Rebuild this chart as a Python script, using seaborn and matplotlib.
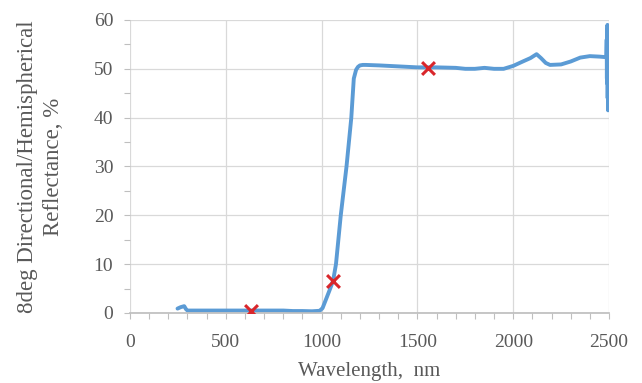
import matplotlib
matplotlib.use("Agg")
import matplotlib.pyplot as plt
import seaborn as sns
import pandas as pd
from matplotlib.ticker import MultipleLocator

# Spectrum
wavelength = [248, 265, 283, 292, 300, 320, 400, 500, 600, 700, 800, 850, 900, 950, 990,
              1005, 1020, 1040, 1060, 1075, 1100, 1130, 1155, 1168, 1180, 1190, 1200, 1215,
              1230, 1300, 1400, 1500, 1600, 1700, 1750, 1800, 1850, 1900, 1950, 2000,
              2050, 2090, 2122, 2145, 2170, 2192, 2250, 2300, 2350, 2400, 2450, 2480,
              2486, 2488, 2489, 2490, 2491, 2492, 2493, 2494, 2495, 2496, 2497, 2498, 2499, 2500]
reflectance = [0.9, 1.2, 1.4, 0.8, 0.5, 0.5, 0.5, 0.5, 0.5, 0.5, 0.5, 0.4, 0.4, 0.35, 0.45,
               1.0, 2.5, 4.5, 6.6, 10.0, 20.0, 30.0, 40.0, 48.0, 49.8, 50.4, 50.7, 50.8,
               50.8, 50.7, 50.5, 50.3, 50.3, 50.2, 50.0, 50.0, 50.2, 50.0, 50.0, 50.6,
               51.5, 52.2, 53.0, 52.2, 51.2, 50.8, 50.9, 51.5, 52.3, 52.6, 52.5, 52.4,
               52.3, 56.0, 48.0, 58.0, 47.0, 59.0, 44.0, 57.0, 41.5, 55.0, 46.0, 58.5, 50.0, 52.0]

# Marked points
mark_x = [630, 1062, 1555]
mark_y = [0.4, 6.6, 50.2]

x_ticks = [0, 500, 1000, 1500, 2000, 2500]
y_ticks = [0, 10, 20, 30, 40, 50, 60]

sns.set_theme(style="white")
plt.rcParams["font.family"] = ["Liberation Serif", "DejaVu Serif"]

fig = plt.figure(figsize=(6.42, 3.83), dpi=100)
ax = fig.add_axes([0.2025, 0.1828, 0.7461, 0.765])

df = pd.DataFrame({"wl": wavelength, "r": reflectance})
sns.lineplot(data=df, x="wl", y="r", ax=ax, color="#5B9BD5", linewidth=2.8,
             estimator=None, sort=False)
mk = pd.DataFrame({"wl": mark_x, "r": mark_y})
sns.scatterplot(data=mk, x="wl", y="r", ax=ax, marker="x", color="#D9262B",
                s=85, linewidth=2.2, zorder=5)

ax.set_xlim(0, 2500)
ax.set_ylim(0, 60)
ax.set_xticks(x_ticks)
ax.set_yticks(y_ticks)
ax.xaxis.set_minor_locator(MultipleLocator(100))
ax.yaxis.set_minor_locator(MultipleLocator(5))
ax.grid(True, which="major", color="#D9D9D9", linewidth=0.9)
ax.tick_params(axis="both", which="both", direction="out", color="#BFBFBF",
               labelcolor="#595959", labelsize=14)
ax.tick_params(axis="x", which="both", length=4, width=0.8, bottom=True, pad=11)
ax.tick_params(axis="y", which="both", length=4, width=0.8, left=True, pad=8)
for s in ["top", "right", "left"]:
    ax.spines[s].set_visible(False)
ax.spines["bottom"].set_color("#BFBFBF")
ax.set_axisbelow(True)

ax.set_xlabel("Wavelength,  nm", fontsize=15, color="#595959")
ax.set_ylabel("8deg Directional/Hemispherical\nReflectance, %", fontsize=16.5,
              color="#595959", linespacing=1.35)
ax.xaxis.set_label_coords(0.5, -0.166)
ax.yaxis.set_label_coords(-0.137, 0.5)

fig.savefig("out.png", dpi=100)
